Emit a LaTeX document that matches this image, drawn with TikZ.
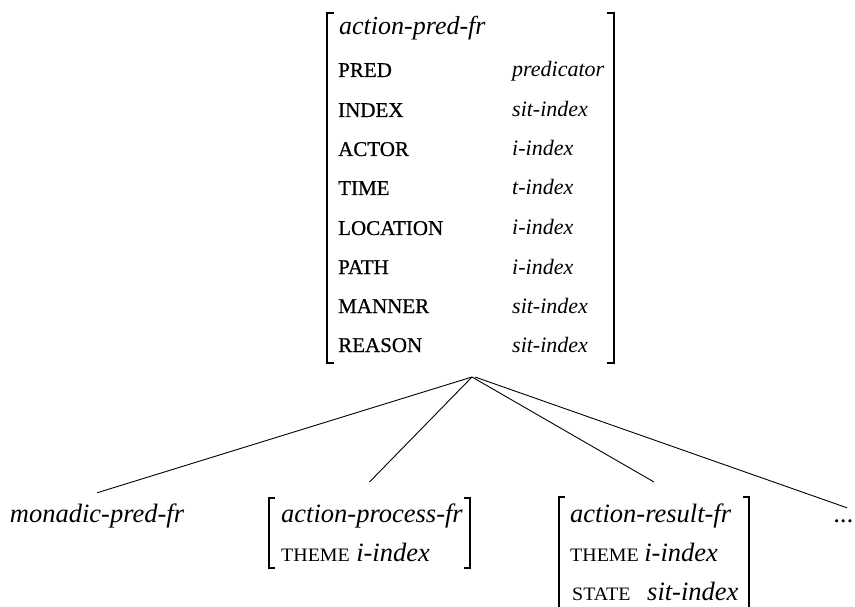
\documentclass[tikz,border=0pt]{standalone}
\usepackage{fontspec}
\setmainfont{Liberation Serif}
\newfontfamily\avmcaps[FakeStretch=1.05]{Liberation Serif}
\newfontfamily\avmattr[FakeBold=0.7]{Liberation Serif}

% square brackets drawn on the left and right sides of a named box
\newcommand\avmbrackets[2]{%
  \draw[brk] ([xshift=#2pt]#1.north west) -- (#1.north west) -- (#1.south west) -- ([xshift=#2pt]#1.south west);
  \draw[brk] ([xshift=-#2pt]#1.north east) -- (#1.north east) -- (#1.south east) -- ([xshift=-#2pt]#1.south east);
}

\tikzset{
  avm/.style={draw=none, inner sep=0pt, outer sep=0pt},
  brk/.style={line width=1.3pt},
  edge/.style={line width=0.9pt},
  lbl/.style={inner sep=0pt, anchor=base west},
  hd/.style={lbl, font=\fontsize{26}{30}\selectfont\itshape},
  feat/.style={lbl, font=\avmattr\fontsize{21}{25}\selectfont},
  val/.style={lbl, font=\fontsize{22}{26}\selectfont\itshape},
  sfeat/.style={lbl, font=\avmcaps\fontsize{19}{22}\selectfont},
  sval/.style={lbl, font=\fontsize{26.5}{30}\selectfont\itshape},
  leaf/.style={inner sep=0pt, anchor=base, text height=18pt, text depth=6pt,
    font=\fontsize{26.5}{30}\selectfont\itshape},
}

\begin{document}
\begin{tikzpicture}[x=1pt, y=-1pt]
\useasboundingbox (0,0) rectangle (855,607);

% top feature structure
\node[avm, minimum width=287pt, minimum height=350pt] (top) at (470.5,188) {};
\avmbrackets{top}{7}
\node[hd] (tophd) at (339,35) {action-pred-fr};
\node[feat] (f1) at (338,77)  {PRED};     \node[val] (v1) at (512,77)  {predicator};
\node[feat] (f2) at (338,117) {INDEX};    \node[val] (v2) at (512,117) {sit-index};
\node[feat] (f3) at (338,156) {ACTOR};    \node[val] (v3) at (512,156) {i-index};
\node[feat] (f4) at (338,195) {TIME};     \node[val] (v4) at (512,195) {t-index};
\node[feat] (f5) at (338,235) {LOCATION}; \node[val] (v5) at (512,235) {i-index};
\node[feat] (f6) at (338,274) {PATH};     \node[val] (v6) at (512,274) {i-index};
\node[feat] (f7) at (338,313) {MANNER};   \node[val] (v7) at (512,313) {sit-index};
\node[feat] (f8) at (338,352) {REASON};   \node[val] (v8) at (512,352) {sit-index};

% daughters
\node[leaf] (mon) at (97,522) {monadic-pred-fr};

\node[avm, minimum width=201pt, minimum height=70pt] (proc) at (369.5,533) {};
\avmbrackets{proc}{6}
\node[sval] (prochd) at (281,522) {action-process-fr};
\node[sfeat] (procf) at (281,561) {THEME};
\node[sval] (procv) at ([xshift=6pt]procf.base east) {i-index};

\node[avm, minimum width=190pt, minimum height=120pt] (res) at (654,557) {};
\avmbrackets{res}{6}
\node[sval] (reshd) at (570,522) {action-result-fr};
\node[sfeat] (resf1) at (570,561) {THEME};
\node[sval] (resv1) at ([xshift=5pt]resf1.base east) {i-index};
\node[sfeat] (resf2) at (572,600) {STATE};
\node[sval] (resv2) at (647,600) {sit-index};

\node[leaf] (dots) at (844,522) {...};

% branches
\coordinate (apex) at ([shift={(1.5,14)}]top.south);
\draw[edge] (apex) -- ([yshift=11pt]mon.north);
\draw[edge] (apex) -- ([yshift=16pt]proc.north);
\draw[edge] (apex) -- ([yshift=15pt]res.north);
\draw[edge] ([xshift=3pt]apex) -- ([shift={(3pt,-4pt)}]dots.north);
\end{tikzpicture}
\end{document}
